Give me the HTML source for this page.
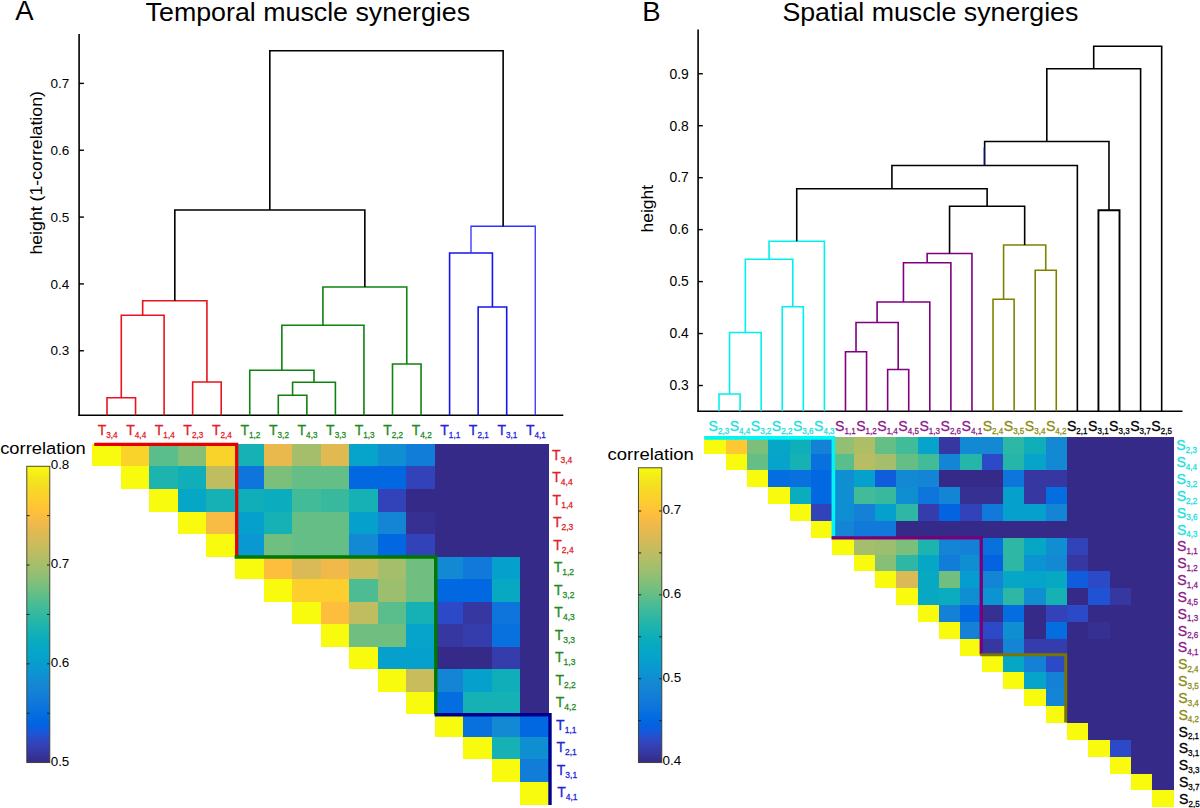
<!DOCTYPE html>
<html><head><meta charset="utf-8"><title>Muscle synergies</title>
<style>
html,body{margin:0;padding:0;background:#fff;}
body{width:1200px;height:808px;overflow:hidden;}
svg{display:block;}
text{font-family:"Liberation Sans", sans-serif;}
</style></head>
<body>
<svg width="1200" height="808" viewBox="0 0 1200 808" font-family='"Liberation Sans", sans-serif'>
<rect x="0" y="0" width="1200" height="808" fill="#fff"/>
<text x="15.20" y="19.80" font-size="27.5" fill="#000" text-anchor="start" >A</text>
<text x="642.30" y="20.80" font-size="27.5" fill="#000" text-anchor="start" >B</text>
<text x="145.60" y="21.30" font-size="26.5" fill="#000" text-anchor="start" textLength="324.5" lengthAdjust="spacingAndGlyphs">Temporal muscle synergies</text>
<text x="782.40" y="21.00" font-size="26.5" fill="#000" text-anchor="start" textLength="296" lengthAdjust="spacingAndGlyphs">Spatial muscle synergies</text>
<line x1="79.10" y1="34.00" x2="79.10" y2="416.00" stroke="#000" stroke-width="1.6" />
<line x1="78.30" y1="415.30" x2="563.30" y2="415.30" stroke="#000" stroke-width="1.6" />
<line x1="79.10" y1="83.40" x2="83.90" y2="83.40" stroke="#000" stroke-width="1.4" />
<text x="69.30" y="88.10" font-size="13.5" fill="#000" text-anchor="end" >0.7</text>
<line x1="79.10" y1="150.24" x2="83.90" y2="150.24" stroke="#000" stroke-width="1.4" />
<text x="69.30" y="154.94" font-size="13.5" fill="#000" text-anchor="end" >0.6</text>
<line x1="79.10" y1="217.08" x2="83.90" y2="217.08" stroke="#000" stroke-width="1.4" />
<text x="69.30" y="221.78" font-size="13.5" fill="#000" text-anchor="end" >0.5</text>
<line x1="79.10" y1="283.92" x2="83.90" y2="283.92" stroke="#000" stroke-width="1.4" />
<text x="69.30" y="288.62" font-size="13.5" fill="#000" text-anchor="end" >0.4</text>
<line x1="79.10" y1="350.76" x2="83.90" y2="350.76" stroke="#000" stroke-width="1.4" />
<text x="69.30" y="355.46" font-size="13.5" fill="#000" text-anchor="end" >0.3</text>
<text transform="translate(42.1,254.6) rotate(-90)" font-size="17.3" fill="#000" textLength="163.5" lengthAdjust="spacingAndGlyphs">height (1-correlation)</text>
<path d="M107.00,415.30 V397.75 H135.55 V415.30" fill="none" stroke="#e8141e" stroke-width="1.6" stroke-linejoin="miter" stroke-linecap="butt"/>
<path d="M121.28,397.75 V315.25 H164.10 V415.30" fill="none" stroke="#e8141e" stroke-width="1.6" stroke-linejoin="miter" stroke-linecap="butt"/>
<path d="M192.65,415.30 V382.00 H221.20 V415.30" fill="none" stroke="#e8141e" stroke-width="1.6" stroke-linejoin="miter" stroke-linecap="butt"/>
<path d="M142.69,315.25 V300.75 H206.93 V382.00" fill="none" stroke="#e8141e" stroke-width="1.6" stroke-linejoin="miter" stroke-linecap="butt"/>
<path d="M278.30,415.30 V395.30 H306.85 V415.30" fill="none" stroke="#0f820f" stroke-width="1.6" stroke-linejoin="miter" stroke-linecap="butt"/>
<path d="M292.58,395.30 V382.20 H335.40 V415.30" fill="none" stroke="#0f820f" stroke-width="1.6" stroke-linejoin="miter" stroke-linecap="butt"/>
<path d="M249.75,415.30 V370.30 H313.99 V382.20" fill="none" stroke="#0f820f" stroke-width="1.6" stroke-linejoin="miter" stroke-linecap="butt"/>
<path d="M281.87,370.30 V325.25 H363.95 V415.30" fill="none" stroke="#0f820f" stroke-width="1.6" stroke-linejoin="miter" stroke-linecap="butt"/>
<path d="M392.50,415.30 V364.00 H421.05 V415.30" fill="none" stroke="#0f820f" stroke-width="1.6" stroke-linejoin="miter" stroke-linecap="butt"/>
<path d="M322.91,325.25 V287.00 H406.77 V364.00" fill="none" stroke="#0f820f" stroke-width="1.6" stroke-linejoin="miter" stroke-linecap="butt"/>
<path d="M174.81,300.75 V210.00 H364.84 V287.00" fill="none" stroke="#000" stroke-width="1.6" stroke-linejoin="miter" stroke-linecap="butt"/>
<path d="M478.15,415.30 V307.00 H506.70 V415.30" fill="none" stroke="#1414f0" stroke-width="1.6" stroke-linejoin="miter" stroke-linecap="butt"/>
<path d="M449.60,415.30 V253.00 H492.43 V307.00" fill="none" stroke="#1414f0" stroke-width="1.6" stroke-linejoin="miter" stroke-linecap="butt"/>
<path d="M471.01,253.00 V226.25 H535.25 V415.30" fill="none" stroke="#3030ff" stroke-width="1.3" stroke-linejoin="miter" stroke-linecap="butt"/>
<path d="M269.82,210.00 V50.75 H503.13 V226.25" fill="none" stroke="#000" stroke-width="1.6" stroke-linejoin="miter" stroke-linecap="butt"/>
<text x="97.70" y="434.90" font-size="14" fill="#e0202a" stroke="#e0202a" stroke-width="0.3" text-anchor="start">T<tspan dy="2.6" font-size="9.8" textLength="11.4" lengthAdjust="spacingAndGlyphs">3,4</tspan></text>
<text x="126.25" y="434.90" font-size="14" fill="#e0202a" stroke="#e0202a" stroke-width="0.3" text-anchor="start">T<tspan dy="2.6" font-size="9.8" textLength="11.4" lengthAdjust="spacingAndGlyphs">4,4</tspan></text>
<text x="154.80" y="434.90" font-size="14" fill="#e0202a" stroke="#e0202a" stroke-width="0.3" text-anchor="start">T<tspan dy="2.6" font-size="9.8" textLength="11.4" lengthAdjust="spacingAndGlyphs">1,4</tspan></text>
<text x="183.35" y="434.90" font-size="14" fill="#e0202a" stroke="#e0202a" stroke-width="0.3" text-anchor="start">T<tspan dy="2.6" font-size="9.8" textLength="11.4" lengthAdjust="spacingAndGlyphs">2,3</tspan></text>
<text x="211.90" y="434.90" font-size="14" fill="#e0202a" stroke="#e0202a" stroke-width="0.3" text-anchor="start">T<tspan dy="2.6" font-size="9.8" textLength="11.4" lengthAdjust="spacingAndGlyphs">2,4</tspan></text>
<text x="240.45" y="434.90" font-size="14" fill="#1f8a1f" stroke="#1f8a1f" stroke-width="0.3" text-anchor="start">T<tspan dy="2.6" font-size="9.8" textLength="11.4" lengthAdjust="spacingAndGlyphs">1,2</tspan></text>
<text x="269.00" y="434.90" font-size="14" fill="#1f8a1f" stroke="#1f8a1f" stroke-width="0.3" text-anchor="start">T<tspan dy="2.6" font-size="9.8" textLength="11.4" lengthAdjust="spacingAndGlyphs">3,2</tspan></text>
<text x="297.55" y="434.90" font-size="14" fill="#1f8a1f" stroke="#1f8a1f" stroke-width="0.3" text-anchor="start">T<tspan dy="2.6" font-size="9.8" textLength="11.4" lengthAdjust="spacingAndGlyphs">4,3</tspan></text>
<text x="326.10" y="434.90" font-size="14" fill="#1f8a1f" stroke="#1f8a1f" stroke-width="0.3" text-anchor="start">T<tspan dy="2.6" font-size="9.8" textLength="11.4" lengthAdjust="spacingAndGlyphs">3,3</tspan></text>
<text x="354.65" y="434.90" font-size="14" fill="#1f8a1f" stroke="#1f8a1f" stroke-width="0.3" text-anchor="start">T<tspan dy="2.6" font-size="9.8" textLength="11.4" lengthAdjust="spacingAndGlyphs">1,3</tspan></text>
<text x="383.20" y="434.90" font-size="14" fill="#1f8a1f" stroke="#1f8a1f" stroke-width="0.3" text-anchor="start">T<tspan dy="2.6" font-size="9.8" textLength="11.4" lengthAdjust="spacingAndGlyphs">2,2</tspan></text>
<text x="411.75" y="434.90" font-size="14" fill="#1f8a1f" stroke="#1f8a1f" stroke-width="0.3" text-anchor="start">T<tspan dy="2.6" font-size="9.8" textLength="11.4" lengthAdjust="spacingAndGlyphs">4,2</tspan></text>
<text x="440.30" y="434.90" font-size="14" fill="#2323d8" stroke="#2323d8" stroke-width="0.3" text-anchor="start">T<tspan dy="2.6" font-size="9.8" textLength="11.4" lengthAdjust="spacingAndGlyphs">1,1</tspan></text>
<text x="468.85" y="434.90" font-size="14" fill="#2323d8" stroke="#2323d8" stroke-width="0.3" text-anchor="start">T<tspan dy="2.6" font-size="9.8" textLength="11.4" lengthAdjust="spacingAndGlyphs">2,1</tspan></text>
<text x="497.40" y="434.90" font-size="14" fill="#2323d8" stroke="#2323d8" stroke-width="0.3" text-anchor="start">T<tspan dy="2.6" font-size="9.8" textLength="11.4" lengthAdjust="spacingAndGlyphs">3,1</tspan></text>
<text x="525.95" y="434.90" font-size="14" fill="#2323d8" stroke="#2323d8" stroke-width="0.3" text-anchor="start">T<tspan dy="2.6" font-size="9.8" textLength="11.4" lengthAdjust="spacingAndGlyphs">4,1</tspan></text>
<rect x="92" y="444" width="29" height="22" fill="#f9fb0e" shape-rendering="crispEdges"/>
<rect x="121" y="444" width="28" height="22" fill="#fad32a" shape-rendering="crispEdges"/>
<rect x="149" y="444" width="29" height="22" fill="#59bd8c" shape-rendering="crispEdges"/>
<rect x="178" y="444" width="28" height="22" fill="#87bf77" shape-rendering="crispEdges"/>
<rect x="206" y="444" width="29" height="22" fill="#fad32a" shape-rendering="crispEdges"/>
<rect x="235" y="444" width="29" height="22" fill="#15b1b4" shape-rendering="crispEdges"/>
<rect x="264" y="444" width="28" height="22" fill="#e9b94e" shape-rendering="crispEdges"/>
<rect x="292" y="444" width="29" height="22" fill="#a5be6b" shape-rendering="crispEdges"/>
<rect x="321" y="444" width="28" height="22" fill="#e1b952" shape-rendering="crispEdges"/>
<rect x="349" y="444" width="29" height="22" fill="#06a4ca" shape-rendering="crispEdges"/>
<rect x="378" y="444" width="28" height="22" fill="#108ed2" shape-rendering="crispEdges"/>
<rect x="406" y="444" width="29" height="22" fill="#127dd8" shape-rendering="crispEdges"/>
<rect x="435" y="444" width="28" height="22" fill="#352a87" shape-rendering="crispEdges"/>
<rect x="463" y="444" width="29" height="22" fill="#352a87" shape-rendering="crispEdges"/>
<rect x="492" y="444" width="28" height="22" fill="#352a87" shape-rendering="crispEdges"/>
<rect x="520" y="444" width="29" height="22" fill="#352a87" shape-rendering="crispEdges"/>
<rect x="121" y="466" width="28" height="23" fill="#f9fb0e" shape-rendering="crispEdges"/>
<rect x="149" y="466" width="29" height="23" fill="#1db3af" shape-rendering="crispEdges"/>
<rect x="178" y="466" width="28" height="23" fill="#0faeb9" shape-rendering="crispEdges"/>
<rect x="206" y="466" width="29" height="23" fill="#c0bc60" shape-rendering="crispEdges"/>
<rect x="235" y="466" width="29" height="23" fill="#0d75dc" shape-rendering="crispEdges"/>
<rect x="264" y="466" width="28" height="23" fill="#7cbf7b" shape-rendering="crispEdges"/>
<rect x="292" y="466" width="29" height="23" fill="#65be86" shape-rendering="crispEdges"/>
<rect x="321" y="466" width="28" height="23" fill="#65be86" shape-rendering="crispEdges"/>
<rect x="349" y="466" width="29" height="23" fill="#0268e1" shape-rendering="crispEdges"/>
<rect x="378" y="466" width="28" height="23" fill="#0268e1" shape-rendering="crispEdges"/>
<rect x="406" y="466" width="29" height="23" fill="#3243ba" shape-rendering="crispEdges"/>
<rect x="435" y="466" width="28" height="23" fill="#352a87" shape-rendering="crispEdges"/>
<rect x="463" y="466" width="29" height="23" fill="#352a87" shape-rendering="crispEdges"/>
<rect x="492" y="466" width="28" height="23" fill="#352a87" shape-rendering="crispEdges"/>
<rect x="520" y="466" width="29" height="23" fill="#352a87" shape-rendering="crispEdges"/>
<rect x="149" y="489" width="29" height="23" fill="#f9fb0e" shape-rendering="crispEdges"/>
<rect x="178" y="489" width="28" height="23" fill="#06a7c6" shape-rendering="crispEdges"/>
<rect x="206" y="489" width="29" height="23" fill="#15b1b4" shape-rendering="crispEdges"/>
<rect x="235" y="489" width="29" height="23" fill="#0faeb9" shape-rendering="crispEdges"/>
<rect x="264" y="489" width="28" height="23" fill="#0aacbe" shape-rendering="crispEdges"/>
<rect x="292" y="489" width="29" height="23" fill="#42bb98" shape-rendering="crispEdges"/>
<rect x="321" y="489" width="28" height="23" fill="#38b99e" shape-rendering="crispEdges"/>
<rect x="349" y="489" width="29" height="23" fill="#15b1b4" shape-rendering="crispEdges"/>
<rect x="378" y="489" width="28" height="23" fill="#3243ba" shape-rendering="crispEdges"/>
<rect x="406" y="489" width="29" height="23" fill="#352a87" shape-rendering="crispEdges"/>
<rect x="435" y="489" width="28" height="23" fill="#352a87" shape-rendering="crispEdges"/>
<rect x="463" y="489" width="29" height="23" fill="#352a87" shape-rendering="crispEdges"/>
<rect x="492" y="489" width="28" height="23" fill="#352a87" shape-rendering="crispEdges"/>
<rect x="520" y="489" width="29" height="23" fill="#352a87" shape-rendering="crispEdges"/>
<rect x="178" y="512" width="28" height="22" fill="#f9fb0e" shape-rendering="crispEdges"/>
<rect x="206" y="512" width="29" height="22" fill="#f8bb44" shape-rendering="crispEdges"/>
<rect x="235" y="512" width="29" height="22" fill="#06a0cd" shape-rendering="crispEdges"/>
<rect x="264" y="512" width="28" height="22" fill="#15b1b4" shape-rendering="crispEdges"/>
<rect x="292" y="512" width="29" height="22" fill="#65be86" shape-rendering="crispEdges"/>
<rect x="321" y="512" width="28" height="22" fill="#65be86" shape-rendering="crispEdges"/>
<rect x="349" y="512" width="29" height="22" fill="#06a0cd" shape-rendering="crispEdges"/>
<rect x="378" y="512" width="28" height="22" fill="#1485d4" shape-rendering="crispEdges"/>
<rect x="406" y="512" width="29" height="22" fill="#363093" shape-rendering="crispEdges"/>
<rect x="435" y="512" width="28" height="22" fill="#352a87" shape-rendering="crispEdges"/>
<rect x="463" y="512" width="29" height="22" fill="#352a87" shape-rendering="crispEdges"/>
<rect x="492" y="512" width="28" height="22" fill="#352a87" shape-rendering="crispEdges"/>
<rect x="520" y="512" width="29" height="22" fill="#352a87" shape-rendering="crispEdges"/>
<rect x="206" y="534" width="29" height="23" fill="#f9fb0e" shape-rendering="crispEdges"/>
<rect x="235" y="534" width="29" height="23" fill="#0998d1" shape-rendering="crispEdges"/>
<rect x="264" y="534" width="28" height="23" fill="#71bf80" shape-rendering="crispEdges"/>
<rect x="292" y="534" width="29" height="23" fill="#65be86" shape-rendering="crispEdges"/>
<rect x="321" y="534" width="28" height="23" fill="#65be86" shape-rendering="crispEdges"/>
<rect x="349" y="534" width="29" height="23" fill="#1389d3" shape-rendering="crispEdges"/>
<rect x="378" y="534" width="28" height="23" fill="#0268e1" shape-rendering="crispEdges"/>
<rect x="406" y="534" width="29" height="23" fill="#3243ba" shape-rendering="crispEdges"/>
<rect x="435" y="534" width="28" height="23" fill="#352a87" shape-rendering="crispEdges"/>
<rect x="463" y="534" width="29" height="23" fill="#352a87" shape-rendering="crispEdges"/>
<rect x="492" y="534" width="28" height="23" fill="#352a87" shape-rendering="crispEdges"/>
<rect x="520" y="534" width="29" height="23" fill="#352a87" shape-rendering="crispEdges"/>
<rect x="235" y="557" width="29" height="22" fill="#f9fb0e" shape-rendering="crispEdges"/>
<rect x="264" y="557" width="28" height="22" fill="#fdbe3d" shape-rendering="crispEdges"/>
<rect x="292" y="557" width="29" height="22" fill="#d9ba56" shape-rendering="crispEdges"/>
<rect x="321" y="557" width="28" height="22" fill="#f1b94a" shape-rendering="crispEdges"/>
<rect x="349" y="557" width="29" height="22" fill="#c8bc5d" shape-rendering="crispEdges"/>
<rect x="378" y="557" width="28" height="22" fill="#a5be6b" shape-rendering="crispEdges"/>
<rect x="406" y="557" width="29" height="22" fill="#71bf80" shape-rendering="crispEdges"/>
<rect x="435" y="557" width="28" height="22" fill="#1389d3" shape-rendering="crispEdges"/>
<rect x="463" y="557" width="29" height="22" fill="#1079da" shape-rendering="crispEdges"/>
<rect x="492" y="557" width="28" height="22" fill="#06a0cd" shape-rendering="crispEdges"/>
<rect x="520" y="557" width="29" height="22" fill="#352a87" shape-rendering="crispEdges"/>
<rect x="264" y="579" width="28" height="23" fill="#f9fb0e" shape-rendering="crispEdges"/>
<rect x="292" y="579" width="29" height="23" fill="#fcce2e" shape-rendering="crispEdges"/>
<rect x="321" y="579" width="28" height="23" fill="#fcce2e" shape-rendering="crispEdges"/>
<rect x="349" y="579" width="29" height="23" fill="#4dbc92" shape-rendering="crispEdges"/>
<rect x="378" y="579" width="28" height="23" fill="#9cbf6f" shape-rendering="crispEdges"/>
<rect x="406" y="579" width="29" height="23" fill="#71bf80" shape-rendering="crispEdges"/>
<rect x="435" y="579" width="28" height="23" fill="#0268e1" shape-rendering="crispEdges"/>
<rect x="463" y="579" width="29" height="23" fill="#0268e1" shape-rendering="crispEdges"/>
<rect x="492" y="579" width="28" height="23" fill="#07a9c2" shape-rendering="crispEdges"/>
<rect x="520" y="579" width="29" height="23" fill="#352a87" shape-rendering="crispEdges"/>
<rect x="292" y="602" width="29" height="22" fill="#f9fb0e" shape-rendering="crispEdges"/>
<rect x="321" y="602" width="28" height="22" fill="#fdbe3d" shape-rendering="crispEdges"/>
<rect x="349" y="602" width="29" height="22" fill="#c0bc60" shape-rendering="crispEdges"/>
<rect x="378" y="602" width="28" height="22" fill="#59bd8c" shape-rendering="crispEdges"/>
<rect x="406" y="602" width="29" height="22" fill="#15b1b4" shape-rendering="crispEdges"/>
<rect x="435" y="602" width="28" height="22" fill="#2c4ac7" shape-rendering="crispEdges"/>
<rect x="463" y="602" width="29" height="22" fill="#3637a0" shape-rendering="crispEdges"/>
<rect x="492" y="602" width="28" height="22" fill="#0d75dc" shape-rendering="crispEdges"/>
<rect x="520" y="602" width="29" height="22" fill="#352a87" shape-rendering="crispEdges"/>
<rect x="321" y="624" width="28" height="23" fill="#f9fb0e" shape-rendering="crispEdges"/>
<rect x="349" y="624" width="29" height="23" fill="#71bf80" shape-rendering="crispEdges"/>
<rect x="378" y="624" width="28" height="23" fill="#71bf80" shape-rendering="crispEdges"/>
<rect x="406" y="624" width="29" height="23" fill="#06a4ca" shape-rendering="crispEdges"/>
<rect x="435" y="624" width="28" height="23" fill="#3637a0" shape-rendering="crispEdges"/>
<rect x="463" y="624" width="29" height="23" fill="#353dad" shape-rendering="crispEdges"/>
<rect x="492" y="624" width="28" height="23" fill="#0871de" shape-rendering="crispEdges"/>
<rect x="520" y="624" width="29" height="23" fill="#352a87" shape-rendering="crispEdges"/>
<rect x="349" y="647" width="29" height="22" fill="#f9fb0e" shape-rendering="crispEdges"/>
<rect x="378" y="647" width="28" height="22" fill="#06a0cd" shape-rendering="crispEdges"/>
<rect x="406" y="647" width="29" height="22" fill="#06a0cd" shape-rendering="crispEdges"/>
<rect x="435" y="647" width="28" height="22" fill="#352a87" shape-rendering="crispEdges"/>
<rect x="463" y="647" width="29" height="22" fill="#352a87" shape-rendering="crispEdges"/>
<rect x="492" y="647" width="28" height="22" fill="#353dad" shape-rendering="crispEdges"/>
<rect x="520" y="647" width="29" height="22" fill="#352a87" shape-rendering="crispEdges"/>
<rect x="378" y="669" width="28" height="23" fill="#f9fb0e" shape-rendering="crispEdges"/>
<rect x="406" y="669" width="29" height="23" fill="#c8bc5d" shape-rendering="crispEdges"/>
<rect x="435" y="669" width="28" height="23" fill="#1485d4" shape-rendering="crispEdges"/>
<rect x="463" y="669" width="29" height="23" fill="#06a0cd" shape-rendering="crispEdges"/>
<rect x="492" y="669" width="28" height="23" fill="#0faeb9" shape-rendering="crispEdges"/>
<rect x="520" y="669" width="29" height="23" fill="#352a87" shape-rendering="crispEdges"/>
<rect x="406" y="692" width="29" height="22" fill="#f9fb0e" shape-rendering="crispEdges"/>
<rect x="435" y="692" width="28" height="22" fill="#046de0" shape-rendering="crispEdges"/>
<rect x="463" y="692" width="29" height="22" fill="#15b1b4" shape-rendering="crispEdges"/>
<rect x="492" y="692" width="28" height="22" fill="#15b1b4" shape-rendering="crispEdges"/>
<rect x="520" y="692" width="29" height="22" fill="#352a87" shape-rendering="crispEdges"/>
<rect x="435" y="714" width="28" height="23" fill="#f9fb0e" shape-rendering="crispEdges"/>
<rect x="463" y="714" width="29" height="23" fill="#0871de" shape-rendering="crispEdges"/>
<rect x="492" y="714" width="28" height="23" fill="#1389d3" shape-rendering="crispEdges"/>
<rect x="520" y="714" width="29" height="23" fill="#0268e1" shape-rendering="crispEdges"/>
<rect x="463" y="737" width="29" height="22" fill="#f9fb0e" shape-rendering="crispEdges"/>
<rect x="492" y="737" width="28" height="22" fill="#15b1b4" shape-rendering="crispEdges"/>
<rect x="520" y="737" width="29" height="22" fill="#108ed2" shape-rendering="crispEdges"/>
<rect x="492" y="759" width="28" height="23" fill="#f9fb0e" shape-rendering="crispEdges"/>
<rect x="520" y="759" width="29" height="23" fill="#127dd8" shape-rendering="crispEdges"/>
<rect x="520" y="782" width="29" height="23" fill="#f9fb0e" shape-rendering="crispEdges"/>
<path d="M94.2,444.35 H236.7 V556.6" fill="none" stroke="#e60000" stroke-width="3.2"/>
<path d="M234.6,557.05 H435.75 V714.6" fill="none" stroke="#007800" stroke-width="3.4"/>
<path d="M434.6,714.8 H550.0 V805.0" fill="none" stroke="#00008c" stroke-width="3.4"/>
<text x="551.90" y="460.00" font-size="14" fill="#e0202a" stroke="#e0202a" stroke-width="0.3" text-anchor="start">T<tspan dy="3.0" font-size="9.8" textLength="11.8" lengthAdjust="spacingAndGlyphs">3,4</tspan></text>
<text x="552.25" y="482.47" font-size="14" fill="#e0202a" stroke="#e0202a" stroke-width="0.3" text-anchor="start">T<tspan dy="3.0" font-size="9.8" textLength="11.8" lengthAdjust="spacingAndGlyphs">4,4</tspan></text>
<text x="552.60" y="504.94" font-size="14" fill="#e0202a" stroke="#e0202a" stroke-width="0.3" text-anchor="start">T<tspan dy="3.0" font-size="9.8" textLength="11.8" lengthAdjust="spacingAndGlyphs">1,4</tspan></text>
<text x="552.95" y="527.41" font-size="14" fill="#e0202a" stroke="#e0202a" stroke-width="0.3" text-anchor="start">T<tspan dy="3.0" font-size="9.8" textLength="11.8" lengthAdjust="spacingAndGlyphs">2,3</tspan></text>
<text x="553.30" y="549.88" font-size="14" fill="#e0202a" stroke="#e0202a" stroke-width="0.3" text-anchor="start">T<tspan dy="3.0" font-size="9.8" textLength="11.8" lengthAdjust="spacingAndGlyphs">2,4</tspan></text>
<text x="553.65" y="572.35" font-size="14" fill="#1f8a1f" stroke="#1f8a1f" stroke-width="0.3" text-anchor="start">T<tspan dy="3.0" font-size="9.8" textLength="11.8" lengthAdjust="spacingAndGlyphs">1,2</tspan></text>
<text x="554.00" y="594.82" font-size="14" fill="#1f8a1f" stroke="#1f8a1f" stroke-width="0.3" text-anchor="start">T<tspan dy="3.0" font-size="9.8" textLength="11.8" lengthAdjust="spacingAndGlyphs">3,2</tspan></text>
<text x="554.35" y="617.29" font-size="14" fill="#1f8a1f" stroke="#1f8a1f" stroke-width="0.3" text-anchor="start">T<tspan dy="3.0" font-size="9.8" textLength="11.8" lengthAdjust="spacingAndGlyphs">4,3</tspan></text>
<text x="554.70" y="639.76" font-size="14" fill="#1f8a1f" stroke="#1f8a1f" stroke-width="0.3" text-anchor="start">T<tspan dy="3.0" font-size="9.8" textLength="11.8" lengthAdjust="spacingAndGlyphs">3,3</tspan></text>
<text x="555.05" y="662.23" font-size="14" fill="#1f8a1f" stroke="#1f8a1f" stroke-width="0.3" text-anchor="start">T<tspan dy="3.0" font-size="9.8" textLength="11.8" lengthAdjust="spacingAndGlyphs">1,3</tspan></text>
<text x="555.40" y="684.70" font-size="14" fill="#1f8a1f" stroke="#1f8a1f" stroke-width="0.3" text-anchor="start">T<tspan dy="3.0" font-size="9.8" textLength="11.8" lengthAdjust="spacingAndGlyphs">2,2</tspan></text>
<text x="555.75" y="707.17" font-size="14" fill="#1f8a1f" stroke="#1f8a1f" stroke-width="0.3" text-anchor="start">T<tspan dy="3.0" font-size="9.8" textLength="11.8" lengthAdjust="spacingAndGlyphs">4,2</tspan></text>
<text x="556.10" y="729.64" font-size="14" fill="#2323d8" stroke="#2323d8" stroke-width="0.3" text-anchor="start">T<tspan dy="3.0" font-size="9.8" textLength="11.8" lengthAdjust="spacingAndGlyphs">1,1</tspan></text>
<text x="556.45" y="752.11" font-size="14" fill="#2323d8" stroke="#2323d8" stroke-width="0.3" text-anchor="start">T<tspan dy="3.0" font-size="9.8" textLength="11.8" lengthAdjust="spacingAndGlyphs">2,1</tspan></text>
<text x="556.80" y="774.58" font-size="14" fill="#2323d8" stroke="#2323d8" stroke-width="0.3" text-anchor="start">T<tspan dy="3.0" font-size="9.8" textLength="11.8" lengthAdjust="spacingAndGlyphs">3,1</tspan></text>
<text x="557.15" y="797.05" font-size="14" fill="#2323d8" stroke="#2323d8" stroke-width="0.3" text-anchor="start">T<tspan dy="3.0" font-size="9.8" textLength="11.8" lengthAdjust="spacingAndGlyphs">4,1</tspan></text>
<defs><linearGradient id="cbA" x1="0" y1="0" x2="0" y2="1"><stop offset="0.00%" stop-color="#f9fb0e"/><stop offset="1.59%" stop-color="#f6f313"/><stop offset="3.17%" stop-color="#f5eb18"/><stop offset="4.76%" stop-color="#f5e41d"/><stop offset="6.35%" stop-color="#f5de21"/><stop offset="7.94%" stop-color="#f7d826"/><stop offset="9.52%" stop-color="#fad32a"/><stop offset="11.11%" stop-color="#fcce2e"/><stop offset="12.70%" stop-color="#fec832"/><stop offset="14.29%" stop-color="#ffc337"/><stop offset="15.87%" stop-color="#fdbe3d"/><stop offset="17.46%" stop-color="#f8bb44"/><stop offset="19.05%" stop-color="#f1b94a"/><stop offset="20.63%" stop-color="#e9b94e"/><stop offset="22.22%" stop-color="#e1b952"/><stop offset="23.81%" stop-color="#d9ba56"/><stop offset="25.40%" stop-color="#d1bb59"/><stop offset="26.98%" stop-color="#c8bc5d"/><stop offset="28.57%" stop-color="#c0bc60"/><stop offset="30.16%" stop-color="#b7bd64"/><stop offset="31.75%" stop-color="#aebe67"/><stop offset="33.33%" stop-color="#a5be6b"/><stop offset="34.92%" stop-color="#9cbf6f"/><stop offset="36.51%" stop-color="#92bf73"/><stop offset="38.10%" stop-color="#87bf77"/><stop offset="39.68%" stop-color="#7cbf7b"/><stop offset="41.27%" stop-color="#71bf80"/><stop offset="42.86%" stop-color="#65be86"/><stop offset="44.44%" stop-color="#59bd8c"/><stop offset="46.03%" stop-color="#4dbc92"/><stop offset="47.62%" stop-color="#42bb98"/><stop offset="49.21%" stop-color="#38b99e"/><stop offset="50.79%" stop-color="#2eb7a4"/><stop offset="52.38%" stop-color="#25b5a9"/><stop offset="53.97%" stop-color="#1db3af"/><stop offset="55.56%" stop-color="#15b1b4"/><stop offset="57.14%" stop-color="#0faeb9"/><stop offset="58.73%" stop-color="#0aacbe"/><stop offset="60.32%" stop-color="#07a9c2"/><stop offset="61.90%" stop-color="#06a7c6"/><stop offset="63.49%" stop-color="#06a4ca"/><stop offset="65.08%" stop-color="#06a0cd"/><stop offset="66.67%" stop-color="#079ccf"/><stop offset="68.25%" stop-color="#0998d1"/><stop offset="69.84%" stop-color="#0c93d2"/><stop offset="71.43%" stop-color="#108ed2"/><stop offset="73.02%" stop-color="#1389d3"/><stop offset="74.60%" stop-color="#1485d4"/><stop offset="76.19%" stop-color="#1481d6"/><stop offset="77.78%" stop-color="#127dd8"/><stop offset="79.37%" stop-color="#1079da"/><stop offset="80.95%" stop-color="#0d75dc"/><stop offset="82.54%" stop-color="#0871de"/><stop offset="84.13%" stop-color="#046de0"/><stop offset="85.71%" stop-color="#0268e1"/><stop offset="87.30%" stop-color="#0363e1"/><stop offset="88.89%" stop-color="#0f5cdd"/><stop offset="90.48%" stop-color="#2053d4"/><stop offset="92.06%" stop-color="#2c4ac7"/><stop offset="93.65%" stop-color="#3243ba"/><stop offset="95.24%" stop-color="#353dad"/><stop offset="96.83%" stop-color="#3637a0"/><stop offset="98.41%" stop-color="#363093"/><stop offset="100.00%" stop-color="#352a87"/></linearGradient></defs>
<rect x="26.80" y="466.25" width="23.00" height="296.35" fill="url(#cbA)" stroke="#3a3a2a" stroke-width="0.9"/>
<text x="50.70" y="469.15" font-size="13.4" fill="#000" text-anchor="start" >0.8</text>
<line x1="26.80" y1="515.64" x2="29.60" y2="515.64" stroke="#222" stroke-width="1.0" />
<line x1="47.00" y1="515.64" x2="49.80" y2="515.64" stroke="#222" stroke-width="1.0" />
<line x1="26.80" y1="565.03" x2="29.60" y2="565.03" stroke="#222" stroke-width="1.0" />
<line x1="47.00" y1="565.03" x2="49.80" y2="565.03" stroke="#222" stroke-width="1.0" />
<text x="50.70" y="567.93" font-size="13.4" fill="#000" text-anchor="start" >0.7</text>
<line x1="26.80" y1="614.43" x2="29.60" y2="614.43" stroke="#222" stroke-width="1.0" />
<line x1="47.00" y1="614.43" x2="49.80" y2="614.43" stroke="#222" stroke-width="1.0" />
<line x1="26.80" y1="663.82" x2="29.60" y2="663.82" stroke="#222" stroke-width="1.0" />
<line x1="47.00" y1="663.82" x2="49.80" y2="663.82" stroke="#222" stroke-width="1.0" />
<text x="50.70" y="666.72" font-size="13.4" fill="#000" text-anchor="start" >0.6</text>
<line x1="26.80" y1="713.21" x2="29.60" y2="713.21" stroke="#222" stroke-width="1.0" />
<line x1="47.00" y1="713.21" x2="49.80" y2="713.21" stroke="#222" stroke-width="1.0" />
<text x="50.70" y="765.50" font-size="13.4" fill="#000" text-anchor="start" >0.5</text>
<text x="0.20" y="454.30" font-size="16.9" fill="#000" text-anchor="start" textLength="85.6" lengthAdjust="spacingAndGlyphs">correlation</text>
<line x1="698.10" y1="29.50" x2="698.10" y2="412.00" stroke="#000" stroke-width="1.6" />
<line x1="697.30" y1="411.25" x2="1182.50" y2="411.25" stroke="#000" stroke-width="1.6" />
<line x1="698.10" y1="73.75" x2="702.80" y2="73.75" stroke="#000" stroke-width="1.4" />
<text x="688.80" y="78.55" font-size="13.9" fill="#000" text-anchor="end" >0.9</text>
<line x1="698.10" y1="125.71" x2="702.80" y2="125.71" stroke="#000" stroke-width="1.4" />
<text x="688.80" y="130.51" font-size="13.9" fill="#000" text-anchor="end" >0.8</text>
<line x1="698.10" y1="177.67" x2="702.80" y2="177.67" stroke="#000" stroke-width="1.4" />
<text x="688.80" y="182.47" font-size="13.9" fill="#000" text-anchor="end" >0.7</text>
<line x1="698.10" y1="229.63" x2="702.80" y2="229.63" stroke="#000" stroke-width="1.4" />
<text x="688.80" y="234.43" font-size="13.9" fill="#000" text-anchor="end" >0.6</text>
<line x1="698.10" y1="281.59" x2="702.80" y2="281.59" stroke="#000" stroke-width="1.4" />
<text x="688.80" y="286.39" font-size="13.9" fill="#000" text-anchor="end" >0.5</text>
<line x1="698.10" y1="333.55" x2="702.80" y2="333.55" stroke="#000" stroke-width="1.4" />
<text x="688.80" y="338.35" font-size="13.9" fill="#000" text-anchor="end" >0.4</text>
<line x1="698.10" y1="385.51" x2="702.80" y2="385.51" stroke="#000" stroke-width="1.4" />
<text x="688.80" y="390.31" font-size="13.9" fill="#000" text-anchor="end" >0.3</text>
<text transform="translate(653.0,232.4) rotate(-90)" font-size="17.3" fill="#000" textLength="47.5" lengthAdjust="spacingAndGlyphs">height</text>
<path d="M719.00,411.25 V394.00 H740.08 V411.25" fill="none" stroke="#00f0f0" stroke-width="1.6" stroke-linejoin="miter" stroke-linecap="butt"/>
<path d="M729.54,394.00 V332.50 H761.16 V411.25" fill="none" stroke="#00f0f0" stroke-width="1.6" stroke-linejoin="miter" stroke-linecap="butt"/>
<path d="M782.24,411.25 V306.75 H803.32 V411.25" fill="none" stroke="#00f0f0" stroke-width="1.6" stroke-linejoin="miter" stroke-linecap="butt"/>
<path d="M745.35,332.50 V259.25 H792.78 V306.75" fill="none" stroke="#00f0f0" stroke-width="1.6" stroke-linejoin="miter" stroke-linecap="butt"/>
<path d="M769.06,259.25 V241.25 H824.40 V411.25" fill="none" stroke="#00f0f0" stroke-width="1.6" stroke-linejoin="miter" stroke-linecap="butt"/>
<path d="M845.48,411.25 V351.75 H866.56 V411.25" fill="none" stroke="#800080" stroke-width="1.6" stroke-linejoin="miter" stroke-linecap="butt"/>
<path d="M887.64,411.25 V369.50 H908.72 V411.25" fill="none" stroke="#800080" stroke-width="1.6" stroke-linejoin="miter" stroke-linecap="butt"/>
<path d="M856.02,351.75 V322.50 H898.18 V369.50" fill="none" stroke="#800080" stroke-width="1.6" stroke-linejoin="miter" stroke-linecap="butt"/>
<path d="M877.10,322.50 V302.00 H929.80 V411.25" fill="none" stroke="#800080" stroke-width="1.6" stroke-linejoin="miter" stroke-linecap="butt"/>
<path d="M903.45,302.00 V262.75 H950.88 V411.25" fill="none" stroke="#800080" stroke-width="1.6" stroke-linejoin="miter" stroke-linecap="butt"/>
<path d="M927.16,262.75 V253.50 H971.96 V411.25" fill="none" stroke="#800080" stroke-width="1.6" stroke-linejoin="miter" stroke-linecap="butt"/>
<path d="M993.04,411.25 V299.25 H1014.12 V411.25" fill="none" stroke="#808000" stroke-width="1.6" stroke-linejoin="miter" stroke-linecap="butt"/>
<path d="M1035.20,411.25 V270.25 H1056.28 V411.25" fill="none" stroke="#808000" stroke-width="1.6" stroke-linejoin="miter" stroke-linecap="butt"/>
<path d="M1003.58,299.25 V245.00 H1045.74 V270.25" fill="none" stroke="#808000" stroke-width="1.6" stroke-linejoin="miter" stroke-linecap="butt"/>
<path d="M949.56,253.50 V206.25 H1024.66 V245.00" fill="none" stroke="#000" stroke-width="1.6" stroke-linejoin="miter" stroke-linecap="butt"/>
<path d="M796.73,241.25 V188.75 H987.11 V206.25" fill="none" stroke="#000" stroke-width="1.6" stroke-linejoin="miter" stroke-linecap="butt"/>
<path d="M891.92,188.75 V165.50 H1077.36 V411.25" fill="none" stroke="#000" stroke-width="1.6" stroke-linejoin="miter" stroke-linecap="butt"/>
<path d="M1098.44,411.25 V210.25 H1119.52 V411.25" fill="none" stroke="#000" stroke-width="1.9" stroke-linejoin="miter" stroke-linecap="butt"/>
<path d="M984.64,165.50 V141.50 H1108.98 V210.25" fill="none" stroke="#000" stroke-width="1.6" stroke-linejoin="miter" stroke-linecap="butt"/>
<path d="M1046.81,141.50 V68.75 H1140.60 V411.25" fill="none" stroke="#000" stroke-width="1.6" stroke-linejoin="miter" stroke-linecap="butt"/>
<path d="M1093.71,68.75 V46.25 H1161.68 V411.25" fill="none" stroke="#000" stroke-width="1.6" stroke-linejoin="miter" stroke-linecap="butt"/>
<line x1="984.09" y1="147.50" x2="984.09" y2="165.00" stroke="#1a1ad0" stroke-width="0.9" />
<text x="708.60" y="431.10" font-size="14.1" fill="#20e0e0" stroke="#20e0e0" stroke-width="0.3" text-anchor="start">S<tspan dy="2.7" font-size="9.2" textLength="11.2" lengthAdjust="spacingAndGlyphs">2,3</tspan></text>
<text x="729.68" y="431.10" font-size="14.1" fill="#20e0e0" stroke="#20e0e0" stroke-width="0.3" text-anchor="start">S<tspan dy="2.7" font-size="9.2" textLength="11.2" lengthAdjust="spacingAndGlyphs">4,4</tspan></text>
<text x="750.76" y="431.10" font-size="14.1" fill="#20e0e0" stroke="#20e0e0" stroke-width="0.3" text-anchor="start">S<tspan dy="2.7" font-size="9.2" textLength="11.2" lengthAdjust="spacingAndGlyphs">3,2</tspan></text>
<text x="771.84" y="431.10" font-size="14.1" fill="#20e0e0" stroke="#20e0e0" stroke-width="0.3" text-anchor="start">S<tspan dy="2.7" font-size="9.2" textLength="11.2" lengthAdjust="spacingAndGlyphs">2,2</tspan></text>
<text x="792.92" y="431.10" font-size="14.1" fill="#20e0e0" stroke="#20e0e0" stroke-width="0.3" text-anchor="start">S<tspan dy="2.7" font-size="9.2" textLength="11.2" lengthAdjust="spacingAndGlyphs">3,6</tspan></text>
<text x="814.00" y="431.10" font-size="14.1" fill="#20e0e0" stroke="#20e0e0" stroke-width="0.3" text-anchor="start">S<tspan dy="2.7" font-size="9.2" textLength="11.2" lengthAdjust="spacingAndGlyphs">4,3</tspan></text>
<text x="835.08" y="431.10" font-size="14.1" fill="#8c198c" stroke="#8c198c" stroke-width="0.3" text-anchor="start">S<tspan dy="2.7" font-size="9.2" textLength="11.2" lengthAdjust="spacingAndGlyphs">1,1</tspan></text>
<text x="856.16" y="431.10" font-size="14.1" fill="#8c198c" stroke="#8c198c" stroke-width="0.3" text-anchor="start">S<tspan dy="2.7" font-size="9.2" textLength="11.2" lengthAdjust="spacingAndGlyphs">1,2</tspan></text>
<text x="877.24" y="431.10" font-size="14.1" fill="#8c198c" stroke="#8c198c" stroke-width="0.3" text-anchor="start">S<tspan dy="2.7" font-size="9.2" textLength="11.2" lengthAdjust="spacingAndGlyphs">1,4</tspan></text>
<text x="898.32" y="431.10" font-size="14.1" fill="#8c198c" stroke="#8c198c" stroke-width="0.3" text-anchor="start">S<tspan dy="2.7" font-size="9.2" textLength="11.2" lengthAdjust="spacingAndGlyphs">4,5</tspan></text>
<text x="919.40" y="431.10" font-size="14.1" fill="#8c198c" stroke="#8c198c" stroke-width="0.3" text-anchor="start">S<tspan dy="2.7" font-size="9.2" textLength="11.2" lengthAdjust="spacingAndGlyphs">1,3</tspan></text>
<text x="940.48" y="431.10" font-size="14.1" fill="#8c198c" stroke="#8c198c" stroke-width="0.3" text-anchor="start">S<tspan dy="2.7" font-size="9.2" textLength="11.2" lengthAdjust="spacingAndGlyphs">2,6</tspan></text>
<text x="961.56" y="431.10" font-size="14.1" fill="#8c198c" stroke="#8c198c" stroke-width="0.3" text-anchor="start">S<tspan dy="2.7" font-size="9.2" textLength="11.2" lengthAdjust="spacingAndGlyphs">4,1</tspan></text>
<text x="982.64" y="431.10" font-size="14.1" fill="#8c8c14" stroke="#8c8c14" stroke-width="0.3" text-anchor="start">S<tspan dy="2.7" font-size="9.2" textLength="11.2" lengthAdjust="spacingAndGlyphs">2,4</tspan></text>
<text x="1003.72" y="431.10" font-size="14.1" fill="#8c8c14" stroke="#8c8c14" stroke-width="0.3" text-anchor="start">S<tspan dy="2.7" font-size="9.2" textLength="11.2" lengthAdjust="spacingAndGlyphs">3,5</tspan></text>
<text x="1024.80" y="431.10" font-size="14.1" fill="#8c8c14" stroke="#8c8c14" stroke-width="0.3" text-anchor="start">S<tspan dy="2.7" font-size="9.2" textLength="11.2" lengthAdjust="spacingAndGlyphs">3,4</tspan></text>
<text x="1045.88" y="431.10" font-size="14.1" fill="#8c8c14" stroke="#8c8c14" stroke-width="0.3" text-anchor="start">S<tspan dy="2.7" font-size="9.2" textLength="11.2" lengthAdjust="spacingAndGlyphs">4,2</tspan></text>
<text x="1066.96" y="431.10" font-size="14.1" fill="#000" stroke="#000" stroke-width="0.3" text-anchor="start">S<tspan dy="2.7" font-size="9.2" textLength="11.2" lengthAdjust="spacingAndGlyphs">2,1</tspan></text>
<text x="1088.04" y="431.10" font-size="14.1" fill="#000" stroke="#000" stroke-width="0.3" text-anchor="start">S<tspan dy="2.7" font-size="9.2" textLength="11.2" lengthAdjust="spacingAndGlyphs">3,1</tspan></text>
<text x="1109.12" y="431.10" font-size="14.1" fill="#000" stroke="#000" stroke-width="0.3" text-anchor="start">S<tspan dy="2.7" font-size="9.2" textLength="11.2" lengthAdjust="spacingAndGlyphs">3,3</tspan></text>
<text x="1130.20" y="431.10" font-size="14.1" fill="#000" stroke="#000" stroke-width="0.3" text-anchor="start">S<tspan dy="2.7" font-size="9.2" textLength="11.2" lengthAdjust="spacingAndGlyphs">3,7</tspan></text>
<text x="1151.28" y="431.10" font-size="14.1" fill="#000" stroke="#000" stroke-width="0.3" text-anchor="start">S<tspan dy="2.7" font-size="9.2" textLength="11.2" lengthAdjust="spacingAndGlyphs">2,5</tspan></text>
<rect x="704" y="437" width="22" height="17" fill="#f9fb0e" shape-rendering="crispEdges"/>
<rect x="726" y="437" width="21" height="17" fill="#fec832" shape-rendering="crispEdges"/>
<rect x="747" y="437" width="21" height="17" fill="#7cbf7b" shape-rendering="crispEdges"/>
<rect x="768" y="437" width="22" height="17" fill="#06a7c6" shape-rendering="crispEdges"/>
<rect x="790" y="437" width="21" height="17" fill="#0faeb9" shape-rendering="crispEdges"/>
<rect x="811" y="437" width="21" height="17" fill="#1481d6" shape-rendering="crispEdges"/>
<rect x="832" y="437" width="22" height="17" fill="#92bf73" shape-rendering="crispEdges"/>
<rect x="854" y="437" width="21" height="17" fill="#aebe67" shape-rendering="crispEdges"/>
<rect x="875" y="437" width="21" height="17" fill="#65be86" shape-rendering="crispEdges"/>
<rect x="896" y="437" width="22" height="17" fill="#42bb98" shape-rendering="crispEdges"/>
<rect x="918" y="437" width="21" height="17" fill="#06a4ca" shape-rendering="crispEdges"/>
<rect x="939" y="437" width="21" height="17" fill="#3637a0" shape-rendering="crispEdges"/>
<rect x="960" y="437" width="22" height="17" fill="#1389d3" shape-rendering="crispEdges"/>
<rect x="982" y="437" width="21" height="17" fill="#1389d3" shape-rendering="crispEdges"/>
<rect x="1003" y="437" width="21" height="17" fill="#2eb7a4" shape-rendering="crispEdges"/>
<rect x="1024" y="437" width="22" height="17" fill="#0faeb9" shape-rendering="crispEdges"/>
<rect x="1046" y="437" width="21" height="17" fill="#1389d3" shape-rendering="crispEdges"/>
<rect x="1067" y="437" width="21" height="17" fill="#352a87" shape-rendering="crispEdges"/>
<rect x="1088" y="437" width="22" height="17" fill="#352a87" shape-rendering="crispEdges"/>
<rect x="1110" y="437" width="21" height="17" fill="#352a87" shape-rendering="crispEdges"/>
<rect x="1131" y="437" width="21" height="17" fill="#352a87" shape-rendering="crispEdges"/>
<rect x="1152" y="437" width="22" height="17" fill="#352a87" shape-rendering="crispEdges"/>
<rect x="726" y="454" width="21" height="16" fill="#f9fb0e" shape-rendering="crispEdges"/>
<rect x="747" y="454" width="21" height="16" fill="#65be86" shape-rendering="crispEdges"/>
<rect x="768" y="454" width="22" height="16" fill="#06a4ca" shape-rendering="crispEdges"/>
<rect x="790" y="454" width="21" height="16" fill="#15b1b4" shape-rendering="crispEdges"/>
<rect x="811" y="454" width="21" height="16" fill="#0871de" shape-rendering="crispEdges"/>
<rect x="832" y="454" width="22" height="16" fill="#59bd8c" shape-rendering="crispEdges"/>
<rect x="854" y="454" width="21" height="16" fill="#b7bd64" shape-rendering="crispEdges"/>
<rect x="875" y="454" width="21" height="16" fill="#a5be6b" shape-rendering="crispEdges"/>
<rect x="896" y="454" width="22" height="16" fill="#65be86" shape-rendering="crispEdges"/>
<rect x="918" y="454" width="21" height="16" fill="#42bb98" shape-rendering="crispEdges"/>
<rect x="939" y="454" width="21" height="16" fill="#1485d4" shape-rendering="crispEdges"/>
<rect x="960" y="454" width="22" height="16" fill="#25b5a9" shape-rendering="crispEdges"/>
<rect x="982" y="454" width="21" height="16" fill="#2c4ac7" shape-rendering="crispEdges"/>
<rect x="1003" y="454" width="21" height="16" fill="#25b5a9" shape-rendering="crispEdges"/>
<rect x="1024" y="454" width="22" height="16" fill="#06a4ca" shape-rendering="crispEdges"/>
<rect x="1046" y="454" width="21" height="16" fill="#1389d3" shape-rendering="crispEdges"/>
<rect x="1067" y="454" width="21" height="16" fill="#352a87" shape-rendering="crispEdges"/>
<rect x="1088" y="454" width="22" height="16" fill="#352a87" shape-rendering="crispEdges"/>
<rect x="1110" y="454" width="21" height="16" fill="#352a87" shape-rendering="crispEdges"/>
<rect x="1131" y="454" width="21" height="16" fill="#352a87" shape-rendering="crispEdges"/>
<rect x="1152" y="454" width="22" height="16" fill="#352a87" shape-rendering="crispEdges"/>
<rect x="747" y="470" width="21" height="17" fill="#f9fb0e" shape-rendering="crispEdges"/>
<rect x="768" y="470" width="22" height="17" fill="#046de0" shape-rendering="crispEdges"/>
<rect x="790" y="470" width="21" height="17" fill="#0871de" shape-rendering="crispEdges"/>
<rect x="811" y="470" width="21" height="17" fill="#0268e1" shape-rendering="crispEdges"/>
<rect x="832" y="470" width="22" height="17" fill="#108ed2" shape-rendering="crispEdges"/>
<rect x="854" y="470" width="21" height="17" fill="#06a0cd" shape-rendering="crispEdges"/>
<rect x="875" y="470" width="21" height="17" fill="#0f5cdd" shape-rendering="crispEdges"/>
<rect x="896" y="470" width="22" height="17" fill="#1389d3" shape-rendering="crispEdges"/>
<rect x="918" y="470" width="21" height="17" fill="#1485d4" shape-rendering="crispEdges"/>
<rect x="939" y="470" width="21" height="17" fill="#352a87" shape-rendering="crispEdges"/>
<rect x="960" y="470" width="22" height="17" fill="#352a87" shape-rendering="crispEdges"/>
<rect x="982" y="470" width="21" height="17" fill="#352a87" shape-rendering="crispEdges"/>
<rect x="1003" y="470" width="21" height="17" fill="#0d75dc" shape-rendering="crispEdges"/>
<rect x="1024" y="470" width="22" height="17" fill="#3637a0" shape-rendering="crispEdges"/>
<rect x="1046" y="470" width="21" height="17" fill="#3637a0" shape-rendering="crispEdges"/>
<rect x="1067" y="470" width="21" height="17" fill="#352a87" shape-rendering="crispEdges"/>
<rect x="1088" y="470" width="22" height="17" fill="#352a87" shape-rendering="crispEdges"/>
<rect x="1110" y="470" width="21" height="17" fill="#352a87" shape-rendering="crispEdges"/>
<rect x="1131" y="470" width="21" height="17" fill="#352a87" shape-rendering="crispEdges"/>
<rect x="1152" y="470" width="22" height="17" fill="#352a87" shape-rendering="crispEdges"/>
<rect x="768" y="487" width="22" height="17" fill="#f9fb0e" shape-rendering="crispEdges"/>
<rect x="790" y="487" width="21" height="17" fill="#0aacbe" shape-rendering="crispEdges"/>
<rect x="811" y="487" width="21" height="17" fill="#0268e1" shape-rendering="crispEdges"/>
<rect x="832" y="487" width="22" height="17" fill="#108ed2" shape-rendering="crispEdges"/>
<rect x="854" y="487" width="21" height="17" fill="#42bb98" shape-rendering="crispEdges"/>
<rect x="875" y="487" width="21" height="17" fill="#38b99e" shape-rendering="crispEdges"/>
<rect x="896" y="487" width="22" height="17" fill="#108ed2" shape-rendering="crispEdges"/>
<rect x="918" y="487" width="21" height="17" fill="#0d75dc" shape-rendering="crispEdges"/>
<rect x="939" y="487" width="21" height="17" fill="#1485d4" shape-rendering="crispEdges"/>
<rect x="960" y="487" width="22" height="17" fill="#363093" shape-rendering="crispEdges"/>
<rect x="982" y="487" width="21" height="17" fill="#363093" shape-rendering="crispEdges"/>
<rect x="1003" y="487" width="21" height="17" fill="#06a0cd" shape-rendering="crispEdges"/>
<rect x="1024" y="487" width="22" height="17" fill="#3637a0" shape-rendering="crispEdges"/>
<rect x="1046" y="487" width="21" height="17" fill="#046de0" shape-rendering="crispEdges"/>
<rect x="1067" y="487" width="21" height="17" fill="#352a87" shape-rendering="crispEdges"/>
<rect x="1088" y="487" width="22" height="17" fill="#352a87" shape-rendering="crispEdges"/>
<rect x="1110" y="487" width="21" height="17" fill="#352a87" shape-rendering="crispEdges"/>
<rect x="1131" y="487" width="21" height="17" fill="#352a87" shape-rendering="crispEdges"/>
<rect x="1152" y="487" width="22" height="17" fill="#352a87" shape-rendering="crispEdges"/>
<rect x="790" y="504" width="21" height="17" fill="#f9fb0e" shape-rendering="crispEdges"/>
<rect x="811" y="504" width="21" height="17" fill="#3243ba" shape-rendering="crispEdges"/>
<rect x="832" y="504" width="22" height="17" fill="#108ed2" shape-rendering="crispEdges"/>
<rect x="854" y="504" width="21" height="17" fill="#1481d6" shape-rendering="crispEdges"/>
<rect x="875" y="504" width="21" height="17" fill="#06a0cd" shape-rendering="crispEdges"/>
<rect x="896" y="504" width="22" height="17" fill="#2eb7a4" shape-rendering="crispEdges"/>
<rect x="918" y="504" width="21" height="17" fill="#353dad" shape-rendering="crispEdges"/>
<rect x="939" y="504" width="21" height="17" fill="#0363e1" shape-rendering="crispEdges"/>
<rect x="960" y="504" width="22" height="17" fill="#3243ba" shape-rendering="crispEdges"/>
<rect x="982" y="504" width="21" height="17" fill="#1079da" shape-rendering="crispEdges"/>
<rect x="1003" y="504" width="21" height="17" fill="#06a0cd" shape-rendering="crispEdges"/>
<rect x="1024" y="504" width="22" height="17" fill="#06a0cd" shape-rendering="crispEdges"/>
<rect x="1046" y="504" width="21" height="17" fill="#1485d4" shape-rendering="crispEdges"/>
<rect x="1067" y="504" width="21" height="17" fill="#352a87" shape-rendering="crispEdges"/>
<rect x="1088" y="504" width="22" height="17" fill="#352a87" shape-rendering="crispEdges"/>
<rect x="1110" y="504" width="21" height="17" fill="#352a87" shape-rendering="crispEdges"/>
<rect x="1131" y="504" width="21" height="17" fill="#352a87" shape-rendering="crispEdges"/>
<rect x="1152" y="504" width="22" height="17" fill="#352a87" shape-rendering="crispEdges"/>
<rect x="811" y="521" width="21" height="17" fill="#f9fb0e" shape-rendering="crispEdges"/>
<rect x="832" y="521" width="22" height="17" fill="#1485d4" shape-rendering="crispEdges"/>
<rect x="854" y="521" width="21" height="17" fill="#1079da" shape-rendering="crispEdges"/>
<rect x="875" y="521" width="21" height="17" fill="#1079da" shape-rendering="crispEdges"/>
<rect x="896" y="521" width="22" height="17" fill="#352a87" shape-rendering="crispEdges"/>
<rect x="918" y="521" width="21" height="17" fill="#352a87" shape-rendering="crispEdges"/>
<rect x="939" y="521" width="21" height="17" fill="#352a87" shape-rendering="crispEdges"/>
<rect x="960" y="521" width="22" height="17" fill="#352a87" shape-rendering="crispEdges"/>
<rect x="982" y="521" width="21" height="17" fill="#352a87" shape-rendering="crispEdges"/>
<rect x="1003" y="521" width="21" height="17" fill="#352a87" shape-rendering="crispEdges"/>
<rect x="1024" y="521" width="22" height="17" fill="#352a87" shape-rendering="crispEdges"/>
<rect x="1046" y="521" width="21" height="17" fill="#352a87" shape-rendering="crispEdges"/>
<rect x="1067" y="521" width="21" height="17" fill="#352a87" shape-rendering="crispEdges"/>
<rect x="1088" y="521" width="22" height="17" fill="#352a87" shape-rendering="crispEdges"/>
<rect x="1110" y="521" width="21" height="17" fill="#352a87" shape-rendering="crispEdges"/>
<rect x="1131" y="521" width="21" height="17" fill="#352a87" shape-rendering="crispEdges"/>
<rect x="1152" y="521" width="22" height="17" fill="#352a87" shape-rendering="crispEdges"/>
<rect x="832" y="538" width="22" height="17" fill="#f9fb0e" shape-rendering="crispEdges"/>
<rect x="854" y="538" width="21" height="17" fill="#a5be6b" shape-rendering="crispEdges"/>
<rect x="875" y="538" width="21" height="17" fill="#9cbf6f" shape-rendering="crispEdges"/>
<rect x="896" y="538" width="22" height="17" fill="#7cbf7b" shape-rendering="crispEdges"/>
<rect x="918" y="538" width="21" height="17" fill="#1db3af" shape-rendering="crispEdges"/>
<rect x="939" y="538" width="21" height="17" fill="#1485d4" shape-rendering="crispEdges"/>
<rect x="960" y="538" width="22" height="17" fill="#1481d6" shape-rendering="crispEdges"/>
<rect x="982" y="538" width="21" height="17" fill="#0871de" shape-rendering="crispEdges"/>
<rect x="1003" y="538" width="21" height="17" fill="#2eb7a4" shape-rendering="crispEdges"/>
<rect x="1024" y="538" width="22" height="17" fill="#06a7c6" shape-rendering="crispEdges"/>
<rect x="1046" y="538" width="21" height="17" fill="#108ed2" shape-rendering="crispEdges"/>
<rect x="1067" y="538" width="21" height="17" fill="#3243ba" shape-rendering="crispEdges"/>
<rect x="1088" y="538" width="22" height="17" fill="#352a87" shape-rendering="crispEdges"/>
<rect x="1110" y="538" width="21" height="17" fill="#352a87" shape-rendering="crispEdges"/>
<rect x="1131" y="538" width="21" height="17" fill="#352a87" shape-rendering="crispEdges"/>
<rect x="1152" y="538" width="22" height="17" fill="#352a87" shape-rendering="crispEdges"/>
<rect x="854" y="555" width="21" height="16" fill="#f9fb0e" shape-rendering="crispEdges"/>
<rect x="875" y="555" width="21" height="16" fill="#87bf77" shape-rendering="crispEdges"/>
<rect x="896" y="555" width="22" height="16" fill="#2eb7a4" shape-rendering="crispEdges"/>
<rect x="918" y="555" width="21" height="16" fill="#06a7c6" shape-rendering="crispEdges"/>
<rect x="939" y="555" width="21" height="16" fill="#127dd8" shape-rendering="crispEdges"/>
<rect x="960" y="555" width="22" height="16" fill="#108ed2" shape-rendering="crispEdges"/>
<rect x="982" y="555" width="21" height="16" fill="#0363e1" shape-rendering="crispEdges"/>
<rect x="1003" y="555" width="21" height="16" fill="#2eb7a4" shape-rendering="crispEdges"/>
<rect x="1024" y="555" width="22" height="16" fill="#0c93d2" shape-rendering="crispEdges"/>
<rect x="1046" y="555" width="21" height="16" fill="#1389d3" shape-rendering="crispEdges"/>
<rect x="1067" y="555" width="21" height="16" fill="#3637a0" shape-rendering="crispEdges"/>
<rect x="1088" y="555" width="22" height="16" fill="#352a87" shape-rendering="crispEdges"/>
<rect x="1110" y="555" width="21" height="16" fill="#352a87" shape-rendering="crispEdges"/>
<rect x="1131" y="555" width="21" height="16" fill="#352a87" shape-rendering="crispEdges"/>
<rect x="1152" y="555" width="22" height="16" fill="#352a87" shape-rendering="crispEdges"/>
<rect x="875" y="571" width="21" height="17" fill="#f9fb0e" shape-rendering="crispEdges"/>
<rect x="896" y="571" width="22" height="17" fill="#d9ba56" shape-rendering="crispEdges"/>
<rect x="918" y="571" width="21" height="17" fill="#07a9c2" shape-rendering="crispEdges"/>
<rect x="939" y="571" width="21" height="17" fill="#71bf80" shape-rendering="crispEdges"/>
<rect x="960" y="571" width="22" height="17" fill="#079ccf" shape-rendering="crispEdges"/>
<rect x="982" y="571" width="21" height="17" fill="#1485d4" shape-rendering="crispEdges"/>
<rect x="1003" y="571" width="21" height="17" fill="#06a7c6" shape-rendering="crispEdges"/>
<rect x="1024" y="571" width="22" height="17" fill="#06a4ca" shape-rendering="crispEdges"/>
<rect x="1046" y="571" width="21" height="17" fill="#07a9c2" shape-rendering="crispEdges"/>
<rect x="1067" y="571" width="21" height="17" fill="#0f5cdd" shape-rendering="crispEdges"/>
<rect x="1088" y="571" width="22" height="17" fill="#2c4ac7" shape-rendering="crispEdges"/>
<rect x="1110" y="571" width="21" height="17" fill="#352a87" shape-rendering="crispEdges"/>
<rect x="1131" y="571" width="21" height="17" fill="#352a87" shape-rendering="crispEdges"/>
<rect x="1152" y="571" width="22" height="17" fill="#352a87" shape-rendering="crispEdges"/>
<rect x="896" y="588" width="22" height="17" fill="#f9fb0e" shape-rendering="crispEdges"/>
<rect x="918" y="588" width="21" height="17" fill="#07a9c2" shape-rendering="crispEdges"/>
<rect x="939" y="588" width="21" height="17" fill="#0aacbe" shape-rendering="crispEdges"/>
<rect x="960" y="588" width="22" height="17" fill="#108ed2" shape-rendering="crispEdges"/>
<rect x="982" y="588" width="21" height="17" fill="#0c93d2" shape-rendering="crispEdges"/>
<rect x="1003" y="588" width="21" height="17" fill="#2eb7a4" shape-rendering="crispEdges"/>
<rect x="1024" y="588" width="22" height="17" fill="#108ed2" shape-rendering="crispEdges"/>
<rect x="1046" y="588" width="21" height="17" fill="#15b1b4" shape-rendering="crispEdges"/>
<rect x="1067" y="588" width="21" height="17" fill="#352a87" shape-rendering="crispEdges"/>
<rect x="1088" y="588" width="22" height="17" fill="#2053d4" shape-rendering="crispEdges"/>
<rect x="1110" y="588" width="21" height="17" fill="#3637a0" shape-rendering="crispEdges"/>
<rect x="1131" y="588" width="21" height="17" fill="#352a87" shape-rendering="crispEdges"/>
<rect x="1152" y="588" width="22" height="17" fill="#352a87" shape-rendering="crispEdges"/>
<rect x="918" y="605" width="21" height="17" fill="#f9fb0e" shape-rendering="crispEdges"/>
<rect x="939" y="605" width="21" height="17" fill="#1481d6" shape-rendering="crispEdges"/>
<rect x="960" y="605" width="22" height="17" fill="#0268e1" shape-rendering="crispEdges"/>
<rect x="982" y="605" width="21" height="17" fill="#363093" shape-rendering="crispEdges"/>
<rect x="1003" y="605" width="21" height="17" fill="#046de0" shape-rendering="crispEdges"/>
<rect x="1024" y="605" width="22" height="17" fill="#352a87" shape-rendering="crispEdges"/>
<rect x="1046" y="605" width="21" height="17" fill="#3243ba" shape-rendering="crispEdges"/>
<rect x="1067" y="605" width="21" height="17" fill="#2c4ac7" shape-rendering="crispEdges"/>
<rect x="1088" y="605" width="22" height="17" fill="#352a87" shape-rendering="crispEdges"/>
<rect x="1110" y="605" width="21" height="17" fill="#352a87" shape-rendering="crispEdges"/>
<rect x="1131" y="605" width="21" height="17" fill="#352a87" shape-rendering="crispEdges"/>
<rect x="1152" y="605" width="22" height="17" fill="#352a87" shape-rendering="crispEdges"/>
<rect x="939" y="622" width="21" height="17" fill="#f9fb0e" shape-rendering="crispEdges"/>
<rect x="960" y="622" width="22" height="17" fill="#1481d6" shape-rendering="crispEdges"/>
<rect x="982" y="622" width="21" height="17" fill="#2c4ac7" shape-rendering="crispEdges"/>
<rect x="1003" y="622" width="21" height="17" fill="#108ed2" shape-rendering="crispEdges"/>
<rect x="1024" y="622" width="22" height="17" fill="#352a87" shape-rendering="crispEdges"/>
<rect x="1046" y="622" width="21" height="17" fill="#046de0" shape-rendering="crispEdges"/>
<rect x="1067" y="622" width="21" height="17" fill="#352a87" shape-rendering="crispEdges"/>
<rect x="1088" y="622" width="22" height="17" fill="#363093" shape-rendering="crispEdges"/>
<rect x="1110" y="622" width="21" height="17" fill="#352a87" shape-rendering="crispEdges"/>
<rect x="1131" y="622" width="21" height="17" fill="#352a87" shape-rendering="crispEdges"/>
<rect x="1152" y="622" width="22" height="17" fill="#352a87" shape-rendering="crispEdges"/>
<rect x="960" y="639" width="22" height="17" fill="#f9fb0e" shape-rendering="crispEdges"/>
<rect x="982" y="639" width="21" height="17" fill="#3637a0" shape-rendering="crispEdges"/>
<rect x="1003" y="639" width="21" height="17" fill="#1485d4" shape-rendering="crispEdges"/>
<rect x="1024" y="639" width="22" height="17" fill="#353dad" shape-rendering="crispEdges"/>
<rect x="1046" y="639" width="21" height="17" fill="#353dad" shape-rendering="crispEdges"/>
<rect x="1067" y="639" width="21" height="17" fill="#352a87" shape-rendering="crispEdges"/>
<rect x="1088" y="639" width="22" height="17" fill="#352a87" shape-rendering="crispEdges"/>
<rect x="1110" y="639" width="21" height="17" fill="#352a87" shape-rendering="crispEdges"/>
<rect x="1131" y="639" width="21" height="17" fill="#352a87" shape-rendering="crispEdges"/>
<rect x="1152" y="639" width="22" height="17" fill="#352a87" shape-rendering="crispEdges"/>
<rect x="982" y="656" width="21" height="16" fill="#f9fb0e" shape-rendering="crispEdges"/>
<rect x="1003" y="656" width="21" height="16" fill="#06a7c6" shape-rendering="crispEdges"/>
<rect x="1024" y="656" width="22" height="16" fill="#1481d6" shape-rendering="crispEdges"/>
<rect x="1046" y="656" width="21" height="16" fill="#2c4ac7" shape-rendering="crispEdges"/>
<rect x="1067" y="656" width="21" height="16" fill="#352a87" shape-rendering="crispEdges"/>
<rect x="1088" y="656" width="22" height="16" fill="#352a87" shape-rendering="crispEdges"/>
<rect x="1110" y="656" width="21" height="16" fill="#352a87" shape-rendering="crispEdges"/>
<rect x="1131" y="656" width="21" height="16" fill="#352a87" shape-rendering="crispEdges"/>
<rect x="1152" y="656" width="22" height="16" fill="#352a87" shape-rendering="crispEdges"/>
<rect x="1003" y="672" width="21" height="17" fill="#f9fb0e" shape-rendering="crispEdges"/>
<rect x="1024" y="672" width="22" height="17" fill="#06a4ca" shape-rendering="crispEdges"/>
<rect x="1046" y="672" width="21" height="17" fill="#1481d6" shape-rendering="crispEdges"/>
<rect x="1067" y="672" width="21" height="17" fill="#352a87" shape-rendering="crispEdges"/>
<rect x="1088" y="672" width="22" height="17" fill="#352a87" shape-rendering="crispEdges"/>
<rect x="1110" y="672" width="21" height="17" fill="#352a87" shape-rendering="crispEdges"/>
<rect x="1131" y="672" width="21" height="17" fill="#352a87" shape-rendering="crispEdges"/>
<rect x="1152" y="672" width="22" height="17" fill="#352a87" shape-rendering="crispEdges"/>
<rect x="1024" y="689" width="22" height="17" fill="#f9fb0e" shape-rendering="crispEdges"/>
<rect x="1046" y="689" width="21" height="17" fill="#1485d4" shape-rendering="crispEdges"/>
<rect x="1067" y="689" width="21" height="17" fill="#352a87" shape-rendering="crispEdges"/>
<rect x="1088" y="689" width="22" height="17" fill="#352a87" shape-rendering="crispEdges"/>
<rect x="1110" y="689" width="21" height="17" fill="#352a87" shape-rendering="crispEdges"/>
<rect x="1131" y="689" width="21" height="17" fill="#352a87" shape-rendering="crispEdges"/>
<rect x="1152" y="689" width="22" height="17" fill="#352a87" shape-rendering="crispEdges"/>
<rect x="1046" y="706" width="21" height="17" fill="#f9fb0e" shape-rendering="crispEdges"/>
<rect x="1067" y="706" width="21" height="17" fill="#352a87" shape-rendering="crispEdges"/>
<rect x="1088" y="706" width="22" height="17" fill="#352a87" shape-rendering="crispEdges"/>
<rect x="1110" y="706" width="21" height="17" fill="#352a87" shape-rendering="crispEdges"/>
<rect x="1131" y="706" width="21" height="17" fill="#352a87" shape-rendering="crispEdges"/>
<rect x="1152" y="706" width="22" height="17" fill="#352a87" shape-rendering="crispEdges"/>
<rect x="1067" y="723" width="21" height="17" fill="#f9fb0e" shape-rendering="crispEdges"/>
<rect x="1088" y="723" width="22" height="17" fill="#352a87" shape-rendering="crispEdges"/>
<rect x="1110" y="723" width="21" height="17" fill="#352a87" shape-rendering="crispEdges"/>
<rect x="1131" y="723" width="21" height="17" fill="#352a87" shape-rendering="crispEdges"/>
<rect x="1152" y="723" width="22" height="17" fill="#352a87" shape-rendering="crispEdges"/>
<rect x="1088" y="740" width="22" height="17" fill="#f9fb0e" shape-rendering="crispEdges"/>
<rect x="1110" y="740" width="21" height="17" fill="#2c4ac7" shape-rendering="crispEdges"/>
<rect x="1131" y="740" width="21" height="17" fill="#352a87" shape-rendering="crispEdges"/>
<rect x="1152" y="740" width="22" height="17" fill="#352a87" shape-rendering="crispEdges"/>
<rect x="1110" y="757" width="21" height="17" fill="#f9fb0e" shape-rendering="crispEdges"/>
<rect x="1131" y="757" width="21" height="17" fill="#352a87" shape-rendering="crispEdges"/>
<rect x="1152" y="757" width="22" height="17" fill="#352a87" shape-rendering="crispEdges"/>
<rect x="1131" y="774" width="21" height="16" fill="#f9fb0e" shape-rendering="crispEdges"/>
<rect x="1152" y="774" width="22" height="16" fill="#352a87" shape-rendering="crispEdges"/>
<rect x="1152" y="790" width="22" height="17" fill="#f9fb0e" shape-rendering="crispEdges"/>
<path d="M704.2,437.9 H833.35 V535.9" fill="none" stroke="#00f5f5" stroke-width="3.6"/>
<path d="M831.5,537.85 H981.25 V654.4" fill="none" stroke="#7a007a" stroke-width="3.3"/>
<path d="M980.2,654.75 H1065.75 V722.5" fill="none" stroke="#7a7400" stroke-width="3.0"/>
<text x="1176.30" y="450.32" font-size="14.1" fill="#20e0e0" stroke="#20e0e0" stroke-width="0.3" text-anchor="start">S<tspan dy="2.7" font-size="9.2" textLength="11.2" lengthAdjust="spacingAndGlyphs">2,3</tspan></text>
<text x="1176.43" y="467.16" font-size="14.1" fill="#20e0e0" stroke="#20e0e0" stroke-width="0.3" text-anchor="start">S<tspan dy="2.7" font-size="9.2" textLength="11.2" lengthAdjust="spacingAndGlyphs">4,4</tspan></text>
<text x="1176.56" y="484.00" font-size="14.1" fill="#20e0e0" stroke="#20e0e0" stroke-width="0.3" text-anchor="start">S<tspan dy="2.7" font-size="9.2" textLength="11.2" lengthAdjust="spacingAndGlyphs">3,2</tspan></text>
<text x="1176.69" y="500.84" font-size="14.1" fill="#20e0e0" stroke="#20e0e0" stroke-width="0.3" text-anchor="start">S<tspan dy="2.7" font-size="9.2" textLength="11.2" lengthAdjust="spacingAndGlyphs">2,2</tspan></text>
<text x="1176.82" y="517.68" font-size="14.1" fill="#20e0e0" stroke="#20e0e0" stroke-width="0.3" text-anchor="start">S<tspan dy="2.7" font-size="9.2" textLength="11.2" lengthAdjust="spacingAndGlyphs">3,6</tspan></text>
<text x="1176.95" y="534.52" font-size="14.1" fill="#20e0e0" stroke="#20e0e0" stroke-width="0.3" text-anchor="start">S<tspan dy="2.7" font-size="9.2" textLength="11.2" lengthAdjust="spacingAndGlyphs">4,3</tspan></text>
<text x="1177.08" y="551.36" font-size="14.1" fill="#8c198c" stroke="#8c198c" stroke-width="0.3" text-anchor="start">S<tspan dy="2.7" font-size="9.2" textLength="11.2" lengthAdjust="spacingAndGlyphs">1,1</tspan></text>
<text x="1177.21" y="568.20" font-size="14.1" fill="#8c198c" stroke="#8c198c" stroke-width="0.3" text-anchor="start">S<tspan dy="2.7" font-size="9.2" textLength="11.2" lengthAdjust="spacingAndGlyphs">1,2</tspan></text>
<text x="1177.34" y="585.04" font-size="14.1" fill="#8c198c" stroke="#8c198c" stroke-width="0.3" text-anchor="start">S<tspan dy="2.7" font-size="9.2" textLength="11.2" lengthAdjust="spacingAndGlyphs">1,4</tspan></text>
<text x="1177.47" y="601.88" font-size="14.1" fill="#8c198c" stroke="#8c198c" stroke-width="0.3" text-anchor="start">S<tspan dy="2.7" font-size="9.2" textLength="11.2" lengthAdjust="spacingAndGlyphs">4,5</tspan></text>
<text x="1177.60" y="618.72" font-size="14.1" fill="#8c198c" stroke="#8c198c" stroke-width="0.3" text-anchor="start">S<tspan dy="2.7" font-size="9.2" textLength="11.2" lengthAdjust="spacingAndGlyphs">1,3</tspan></text>
<text x="1177.73" y="635.56" font-size="14.1" fill="#8c198c" stroke="#8c198c" stroke-width="0.3" text-anchor="start">S<tspan dy="2.7" font-size="9.2" textLength="11.2" lengthAdjust="spacingAndGlyphs">2,6</tspan></text>
<text x="1177.86" y="652.40" font-size="14.1" fill="#8c198c" stroke="#8c198c" stroke-width="0.3" text-anchor="start">S<tspan dy="2.7" font-size="9.2" textLength="11.2" lengthAdjust="spacingAndGlyphs">4,1</tspan></text>
<text x="1177.99" y="669.24" font-size="14.1" fill="#8c8c14" stroke="#8c8c14" stroke-width="0.3" text-anchor="start">S<tspan dy="2.7" font-size="9.2" textLength="11.2" lengthAdjust="spacingAndGlyphs">2,4</tspan></text>
<text x="1178.12" y="686.08" font-size="14.1" fill="#8c8c14" stroke="#8c8c14" stroke-width="0.3" text-anchor="start">S<tspan dy="2.7" font-size="9.2" textLength="11.2" lengthAdjust="spacingAndGlyphs">3,5</tspan></text>
<text x="1178.25" y="702.92" font-size="14.1" fill="#8c8c14" stroke="#8c8c14" stroke-width="0.3" text-anchor="start">S<tspan dy="2.7" font-size="9.2" textLength="11.2" lengthAdjust="spacingAndGlyphs">3,4</tspan></text>
<text x="1178.38" y="719.76" font-size="14.1" fill="#8c8c14" stroke="#8c8c14" stroke-width="0.3" text-anchor="start">S<tspan dy="2.7" font-size="9.2" textLength="11.2" lengthAdjust="spacingAndGlyphs">4,2</tspan></text>
<text x="1178.51" y="736.60" font-size="14.1" fill="#000" stroke="#000" stroke-width="0.3" text-anchor="start">S<tspan dy="2.7" font-size="9.2" textLength="11.2" lengthAdjust="spacingAndGlyphs">2,1</tspan></text>
<text x="1178.64" y="753.44" font-size="14.1" fill="#000" stroke="#000" stroke-width="0.3" text-anchor="start">S<tspan dy="2.7" font-size="9.2" textLength="11.2" lengthAdjust="spacingAndGlyphs">3,1</tspan></text>
<text x="1178.77" y="770.28" font-size="14.1" fill="#000" stroke="#000" stroke-width="0.3" text-anchor="start">S<tspan dy="2.7" font-size="9.2" textLength="11.2" lengthAdjust="spacingAndGlyphs">3,3</tspan></text>
<text x="1178.90" y="787.12" font-size="14.1" fill="#000" stroke="#000" stroke-width="0.3" text-anchor="start">S<tspan dy="2.7" font-size="9.2" textLength="11.2" lengthAdjust="spacingAndGlyphs">3,7</tspan></text>
<text x="1179.03" y="803.96" font-size="14.1" fill="#000" stroke="#000" stroke-width="0.3" text-anchor="start">S<tspan dy="2.7" font-size="9.2" textLength="11.2" lengthAdjust="spacingAndGlyphs">2,5</tspan></text>
<defs><linearGradient id="cbB" x1="0" y1="0" x2="0" y2="1"><stop offset="0.00%" stop-color="#f9fb0e"/><stop offset="1.59%" stop-color="#f6f313"/><stop offset="3.17%" stop-color="#f5eb18"/><stop offset="4.76%" stop-color="#f5e41d"/><stop offset="6.35%" stop-color="#f5de21"/><stop offset="7.94%" stop-color="#f7d826"/><stop offset="9.52%" stop-color="#fad32a"/><stop offset="11.11%" stop-color="#fcce2e"/><stop offset="12.70%" stop-color="#fec832"/><stop offset="14.29%" stop-color="#ffc337"/><stop offset="15.87%" stop-color="#fdbe3d"/><stop offset="17.46%" stop-color="#f8bb44"/><stop offset="19.05%" stop-color="#f1b94a"/><stop offset="20.63%" stop-color="#e9b94e"/><stop offset="22.22%" stop-color="#e1b952"/><stop offset="23.81%" stop-color="#d9ba56"/><stop offset="25.40%" stop-color="#d1bb59"/><stop offset="26.98%" stop-color="#c8bc5d"/><stop offset="28.57%" stop-color="#c0bc60"/><stop offset="30.16%" stop-color="#b7bd64"/><stop offset="31.75%" stop-color="#aebe67"/><stop offset="33.33%" stop-color="#a5be6b"/><stop offset="34.92%" stop-color="#9cbf6f"/><stop offset="36.51%" stop-color="#92bf73"/><stop offset="38.10%" stop-color="#87bf77"/><stop offset="39.68%" stop-color="#7cbf7b"/><stop offset="41.27%" stop-color="#71bf80"/><stop offset="42.86%" stop-color="#65be86"/><stop offset="44.44%" stop-color="#59bd8c"/><stop offset="46.03%" stop-color="#4dbc92"/><stop offset="47.62%" stop-color="#42bb98"/><stop offset="49.21%" stop-color="#38b99e"/><stop offset="50.79%" stop-color="#2eb7a4"/><stop offset="52.38%" stop-color="#25b5a9"/><stop offset="53.97%" stop-color="#1db3af"/><stop offset="55.56%" stop-color="#15b1b4"/><stop offset="57.14%" stop-color="#0faeb9"/><stop offset="58.73%" stop-color="#0aacbe"/><stop offset="60.32%" stop-color="#07a9c2"/><stop offset="61.90%" stop-color="#06a7c6"/><stop offset="63.49%" stop-color="#06a4ca"/><stop offset="65.08%" stop-color="#06a0cd"/><stop offset="66.67%" stop-color="#079ccf"/><stop offset="68.25%" stop-color="#0998d1"/><stop offset="69.84%" stop-color="#0c93d2"/><stop offset="71.43%" stop-color="#108ed2"/><stop offset="73.02%" stop-color="#1389d3"/><stop offset="74.60%" stop-color="#1485d4"/><stop offset="76.19%" stop-color="#1481d6"/><stop offset="77.78%" stop-color="#127dd8"/><stop offset="79.37%" stop-color="#1079da"/><stop offset="80.95%" stop-color="#0d75dc"/><stop offset="82.54%" stop-color="#0871de"/><stop offset="84.13%" stop-color="#046de0"/><stop offset="85.71%" stop-color="#0268e1"/><stop offset="87.30%" stop-color="#0363e1"/><stop offset="88.89%" stop-color="#0f5cdd"/><stop offset="90.48%" stop-color="#2053d4"/><stop offset="92.06%" stop-color="#2c4ac7"/><stop offset="93.65%" stop-color="#3243ba"/><stop offset="95.24%" stop-color="#353dad"/><stop offset="96.83%" stop-color="#3637a0"/><stop offset="98.41%" stop-color="#363093"/><stop offset="100.00%" stop-color="#352a87"/></linearGradient></defs>
<rect x="638.40" y="467.80" width="23.40" height="294.80" fill="url(#cbB)" stroke="#3a3a2a" stroke-width="0.9"/>
<line x1="638.40" y1="510.99" x2="641.20" y2="510.99" stroke="#222" stroke-width="1.0" />
<line x1="659.00" y1="510.99" x2="661.80" y2="510.99" stroke="#222" stroke-width="1.0" />
<line x1="638.40" y1="552.92" x2="641.20" y2="552.92" stroke="#222" stroke-width="1.0" />
<line x1="659.00" y1="552.92" x2="661.80" y2="552.92" stroke="#222" stroke-width="1.0" />
<line x1="638.40" y1="594.86" x2="641.20" y2="594.86" stroke="#222" stroke-width="1.0" />
<line x1="659.00" y1="594.86" x2="661.80" y2="594.86" stroke="#222" stroke-width="1.0" />
<line x1="638.40" y1="636.79" x2="641.20" y2="636.79" stroke="#222" stroke-width="1.0" />
<line x1="659.00" y1="636.79" x2="661.80" y2="636.79" stroke="#222" stroke-width="1.0" />
<line x1="638.40" y1="678.73" x2="641.20" y2="678.73" stroke="#222" stroke-width="1.0" />
<line x1="659.00" y1="678.73" x2="661.80" y2="678.73" stroke="#222" stroke-width="1.0" />
<line x1="638.40" y1="720.67" x2="641.20" y2="720.67" stroke="#222" stroke-width="1.0" />
<line x1="659.00" y1="720.67" x2="661.80" y2="720.67" stroke="#222" stroke-width="1.0" />
<text x="662.60" y="513.79" font-size="13.4" fill="#000" text-anchor="start" >0.7</text>
<text x="662.60" y="597.66" font-size="13.4" fill="#000" text-anchor="start" >0.6</text>
<text x="662.60" y="681.53" font-size="13.4" fill="#000" text-anchor="start" >0.5</text>
<text x="662.60" y="765.40" font-size="13.4" fill="#000" text-anchor="start" >0.4</text>
<text x="607.60" y="459.80" font-size="16.9" fill="#000" text-anchor="start" textLength="86.3" lengthAdjust="spacingAndGlyphs">correlation</text>
</svg>
</body></html>
